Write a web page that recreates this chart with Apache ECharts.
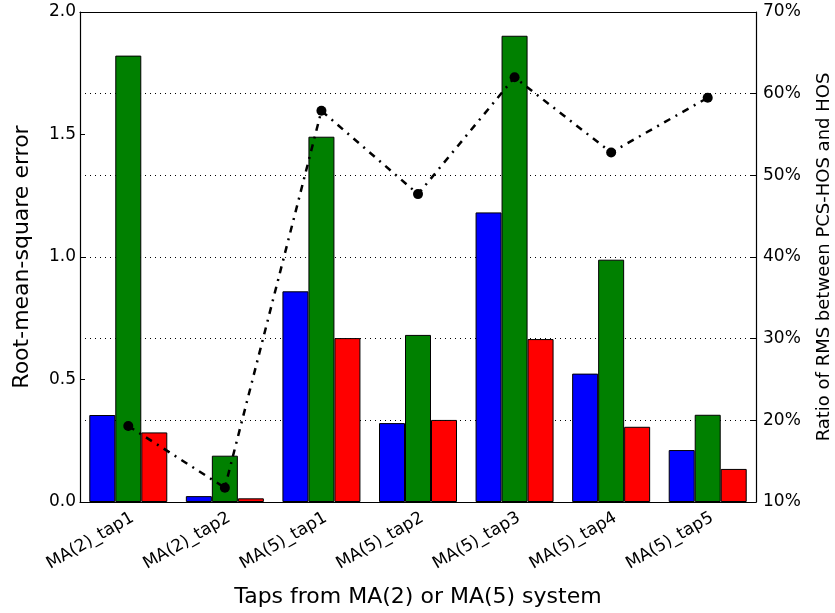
<!DOCTYPE html>
<html><head><meta charset="utf-8">
<script src="https://cdn.jsdelivr.net/npm/echarts@6/dist/echarts.min.js"></script>
<style>html,body{margin:0;padding:0;background:#fff}#c{width:835px;height:613px}</style>
</head><body><div id="c"></div>
<script>
const categories = ['MA(2)_tap1','MA(2)_tap2','MA(5)_tap1','MA(5)_tap2','MA(5)_tap3','MA(5)_tap4','MA(5)_tap5'];
const blueValues  = [0.355, 0.024, 0.86, 0.322, 1.182, 0.524, 0.212];
const greenValues = [1.822, 0.189, 1.491, 0.682, 1.903, 0.989, 0.356];
const redValues   = [0.284, 0.015, 0.669, 0.335, 0.665, 0.307, 0.135];
const ratioValues = [19.3, 11.75, 57.9, 47.7, 62.0, 52.8, 59.5];

const font = 'DejaVu Sans';
const chart = echarts.init(document.getElementById('c'), null, {renderer:'canvas'});
const barStyle = c => ({color:c, borderColor:'#000', borderWidth:1});
chart.setOption({
  animation:false,
  textStyle:{fontFamily:font},
  grid:{left:80, right:79, top:12, bottom:111, containLabel:false, outerBoundsMode:'none'},
  xAxis:[{
    type:'category', data:categories, position:'bottom',
    axisLine:{lineStyle:{color:'#000', width:1.2}},
    axisTick:{inside:true, alignWithLabel:true, length:5, lineStyle:{color:'#000'}},
    axisLabel:{rotate:30, color:'#000', fontSize:17, fontFamily:font, margin:17, padding:[0,-5,0,0]},
    name:'Taps from MA(2) or MA(5) system', nameLocation:'middle', nameGap:84,
    nameTextStyle:{fontSize:22, color:'#000', fontFamily:font}
  },{
    type:'category', data:categories, position:'top',
    axisLine:{lineStyle:{color:'#000', width:1.2}},
    axisTick:{inside:true, alignWithLabel:true, length:5, lineStyle:{color:'#000'}},
    axisLabel:{show:false}
  }],
  yAxis:[{
    type:'value', min:0, max:2, interval:0.5, position:'left',
    axisLine:{show:true, lineStyle:{color:'#000', width:1.2}},
    axisTick:{show:true, inside:true, length:5, lineStyle:{color:'#000'}},
    axisLabel:{color:'#000', fontSize:17, fontFamily:font, formatter:v=>v.toFixed(1), margin:4},
    splitLine:{show:false},
    name:'Root-mean-square error', nameLocation:'middle', nameGap:47,
    nameTextStyle:{fontSize:22, color:'#000', fontFamily:font}
  },{
    type:'value', min:10, max:70, interval:10, position:'right',
    axisLine:{show:true, lineStyle:{color:'#000', width:1.2}},
    axisTick:{show:true, inside:true, length:5, lineStyle:{color:'#000'}},
    axisLabel:{color:'#000', fontSize:17, fontFamily:font, formatter:'{value}%', margin:7},
    splitLine:{show:true, lineStyle:{color:'#000', type:[1,4], width:1}},
    name:'Ratio of RMS between PCS-HOS and HOS', nameLocation:'middle', nameGap:59,
    nameRotate:90,
    nameTextStyle:{fontSize:18, color:'#000', fontFamily:font}
  }],
  series:[
    {type:'bar', data:blueValues, barWidth:26, barGap:'0%', itemStyle:barStyle('#0000ff')},
    {type:'bar', data:greenValues, barWidth:26, barGap:'0%', itemStyle:barStyle('#008000')},
    {type:'bar', data:redValues, barWidth:26, barGap:'0%', itemStyle:barStyle('#ff0000')},
    {type:'line', data:ratioValues, yAxisIndex:1, z:10, symbol:'circle', symbolSize:10,
     itemStyle:{color:'#000'},
     lineStyle:{color:'#000', width:2.5, type:[7,6,2,6]}}
  ]
});
</script></body></html>
